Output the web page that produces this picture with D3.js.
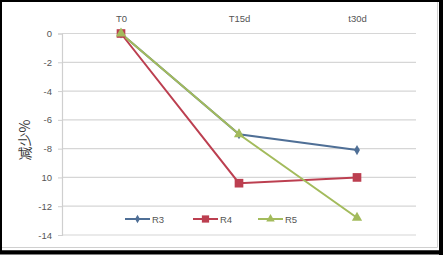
<!DOCTYPE html>
<html>
<head>
<meta charset="utf-8">
<script src="https://cdnjs.cloudflare.com/ajax/libs/d3/7.8.5/d3.min.js"></script>
<style>
  html, body { margin: 0; padding: 0; background: #fff; }
  svg { display: block; }
</style>
</head>
<body>
<svg id="chart" width="443" height="255"></svg>
<script>
// data
const categories = ['T0', 'T15d', 't30d'];
const tickValues = [0, -2, -4, -6, -8, -10, -12, -14];
const tickLabels = ['0', '-2', '-4', '-6', '-8', '10', '-12', '-14'];
const seriesNames = ['R3', 'R4', 'R5'];
const r3 = [0, -7.0, -8.1];
const r4 = [0, -10.4, -10.0];
const r5 = [0, -7.0, -12.8];
const yTitle = '减少%';

const series = [
    { name: seriesNames[0], values: r3, colour: '#4f6f96', shape: d3.symbolDiamond, size: 30 },
    { name: seriesNames[1], values: r4, colour: '#bc3f50', shape: d3.symbolSquare, size: 75 },
    { name: seriesNames[2], values: r5, colour: '#a3bb5c', shape: d3.symbolTriangle, size: 45 }
];

const svg = d3.select('#chart');
const W = 443, H = 255;
const plot = { left: 62, right: 416, top: 33.5, bottom: 235 };

// outer frame
svg.append('rect')
    .attr('x', 0).attr('y', 0).attr('width', W).attr('height', H)
    .attr('fill', '#fff');
svg.append('path')
    .attr('d', 'M2,247.5 H437.5 V2')
    .attr('fill', 'none').attr('stroke', '#d0d0d0').attr('stroke-width', 1);
svg.append('rect')
    .attr('x', 1).attr('y', 1).attr('width', 439.5).attr('height', 250.5)
    .attr('fill', 'none').attr('stroke', '#000').attr('stroke-width', 2);
svg.append('path')
    .attr('d', 'M441,0 V255 M0,252.5 H443')
    .attr('stroke', '#000').attr('stroke-width', 4);

const x = d3.scalePoint()
    .domain(categories)
    .range([plot.left, plot.right])
    .padding(0.5);

const y = d3.scaleLinear()
    .domain([-14, 0])
    .range([plot.bottom, plot.top]);

// gridlines
svg.append('g')
    .selectAll('line')
    .data(tickValues)
    .enter()
    .append('line')
    .attr('x1', plot.left).attr('x2', plot.right)
    .attr('y1', d => y(d)).attr('y2', d => y(d))
    .attr('stroke', '#d6d6d6').attr('stroke-width', 1.2);

// y axis
const yAxis = d3.axisLeft(y)
    .tickValues(tickValues)
    .tickFormat((d, i) => tickLabels[i])
    .tickSize(4)
    .tickPadding(6);
const yg = svg.append('g')
    .attr('transform', `translate(${plot.left},0)`)
    .call(yAxis);
yg.select('.domain').attr('stroke', '#cfcfcf').attr('stroke-width', 1.2);
yg.selectAll('.tick line').attr('stroke', '#cfcfcf');
yg.selectAll('.tick text')
    .attr('fill', '#555')
    .style('font-family', 'Liberation Sans, Arial, sans-serif')
    .style('font-size', '9.5px');

// category axis on top
const xAxis = d3.axisTop(x).tickSize(0).tickPadding(8);
const xg = svg.append('g')
    .attr('transform', `translate(0,${plot.top - 4})`)
    .call(xAxis);
xg.select('.domain').remove();
xg.selectAll('.tick text')
    .attr('fill', '#555')
    .style('font-family', 'Liberation Sans, Arial, sans-serif')
    .style('font-size', '9.5px');

// y title
svg.append('text')
    .attr('transform', 'translate(24,140) rotate(-90)')
    .attr('text-anchor', 'middle')
    .attr('dominant-baseline', 'central')
    .attr('fill', '#333')
    .style('font-family', 'Noto Sans CJK SC, sans-serif')
    .style('font-size', '14px')
    .text(yTitle);

// lines and markers
const line = d3.line()
    .x((d, i) => x(categories[i]))
    .y(d => y(d));

series.forEach(s => {
    svg.append('path')
        .datum(s.values)
        .attr('d', line)
        .attr('fill', 'none')
        .attr('stroke', s.colour)
        .attr('stroke-width', 2);
});
series.forEach(s => {
    svg.append('g')
        .selectAll('path')
        .data(s.values)
        .enter()
        .append('path')
        .attr('d', d3.symbol().type(s.shape).size(s.size))
        .attr('transform', (d, i) => `translate(${x(categories[i])},${y(d)})`)
        .attr('fill', s.colour);
});

// legend
const legendX = [125, 193, 258];
const legendY = 219;
const legend = svg.append('g');
series.forEach((s, i) => {
    const g = legend.append('g').attr('transform', `translate(${legendX[i]},${legendY})`);
    g.append('line')
        .attr('x1', 0).attr('x2', 25)
        .attr('stroke', s.colour).attr('stroke-width', 2);
    g.append('path')
        .attr('d', d3.symbol().type(s.shape).size(s.size * 0.7))
        .attr('transform', 'translate(12.5,0)')
        .attr('fill', s.colour);
    g.append('text')
        .attr('x', 27).attr('y', 0)
        .attr('dominant-baseline', 'central')
        .attr('fill', '#555')
        .style('font-family', 'Liberation Sans, Arial, sans-serif')
        .style('font-size', '9.5px')
        .text(s.name);
});
</script>
</body>
</html>
